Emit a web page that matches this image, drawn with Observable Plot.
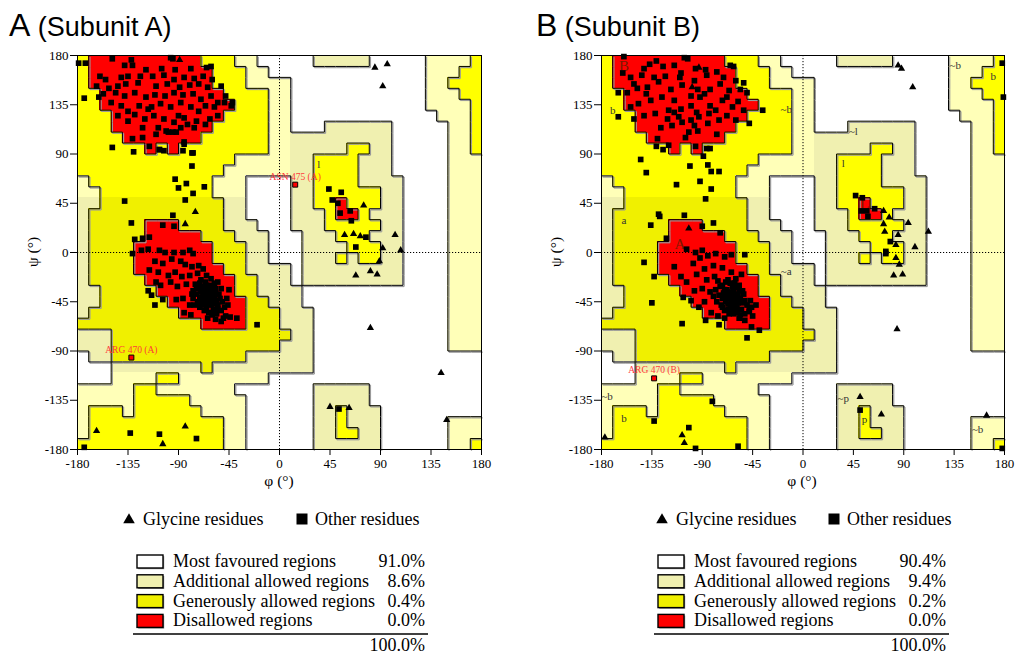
<!DOCTYPE html>
<html><head><meta charset="utf-8">
<script src="https://cdn.jsdelivr.net/npm/d3@7"></script>
<script src="https://cdn.jsdelivr.net/npm/@observablehq/plot@0.6"></script>
<style>
html,body{margin:0;padding:0;background:#fff;}
#root{position:relative;width:1018px;height:656px;overflow:hidden;}
#root svg{position:absolute;}
</style></head>
<body><div id="root"></div>
<script>
// ---------- data ----------
const TICKS = [-180,-135,-90,-45,0,45,90,135,180];
// region map: 36 rows (psi 180 -> -180), 36 cols (phi -180 -> 180), 10 degree cells
// R core, Y/y allowed, P/p generous, . disallowed
const REGION_ROWS = [
"YRRRRRRRRRRYYYPP.....ppppp.....PPPPY",
"YRRRRRRRRRRRYYYPP..............PPPYY",
"YRRRRRRRRRRRYYYPPPP............PPYYY",
"YYRRRRRRRRRRRYYYYPP............PPPYY",
"YYRRRRRRRRRRRRYYYPP............PPPPY",
"YYYRRRRRRRRRRYYYYPP.............PPPY",
"YYYRRRRRRRRRYYYYYPP...pppppp.....PPY",
"YYYYRRRRRRRYYYYYYPPppppppppp.....PPY",
"YYYYYYRYRYYYYYYYYPPpppppYYpp.....PPY",
"YYYYYYYYYYYYYYPPPPPppYYYYppp.....PPP",
"YYYYYYYYYYYYYPPPPPPppYYYYppp.....PPP",
"PYYYYYYYYYYYPPP....ppYYYYpppp....PPP",
"PPYYYYYYYYYYPPP....ppYYYYYYpp....PPP",
"ppyyyyyyyyyyypp....ppYYRYYYpp....PPP",
"pyyyyyyyyyyyypp....pppYRRYppp....PPP",
"pyyyyyRRRyyyyppp...pppYYYYYpp....PPP",
"pyyyyyRRRRRyyyppp...pppYYYppp....PPP",
"pyyyyRRRRRRRyyypp...ppppYYYpp....PPP",
"pyyyyRRRRRRRyyypp...pppYpYYpp....PPP",
"pyyyyRRRRRRRRyypppp.ppppppppp....PPP",
"pyyyyyRRRRRRRRyyppp.ppppppppp....PPP",
"ppyyyyyRRRRRRRyypppp.............PPP",
"ppyyyyyyRRRRRRRyyppp.............PPP",
"pyyyyyyyyRRRRRRyyyppp............PPP",
"yyyyyyyyyyyRRRRyyyppp............PPP",
"pppyyyyyyyyyyyyyyyypp............PPP",
"pppyyyyyyyyyyyyyyyppp............PPP",
".ppyyyyyyyyyyyypppppp...............",
"...ppppppppyppppppppp...............",
"...PPPPYYPPPPPPPP...................",
"PPPPPYYPPPPPPP.......ppppp..........",
"PPPPPYYYYYPPPPP......ppppp..........",
"PYYYPYYYYYYPPPP......ppYppp.........",
"PYYYYYYYYYYYYPP......ppYppp......PPP",
"PYYYYYYYYYYYYPP......ppYYpp......PPP",
"YYYYYYYYYYYYYPP......pppppp......PPY"
];
const REGION_FILL = {R:"#ff0000", Y:"#ffff00", y:"#f0f000", P:"#ffffb8", p:"#f0f0b0"};
const REGION_LEVEL = {R:3, Y:2, y:2, P:1, p:1, ".":0};

// ----- Subunit A -----
const glyA = [[85,169],[96,172],[92,152],[-89,176],[-75,37],[-84,26],[75,43],[58,16],[66,17],[72,15],[103,16],[92,4],[108,2],
 [89,-8],[68,-21],[81,-17],[87,-20],[81,-69],[144,-110],[149,-153],[45,-141],[62,-142],[-163,-163],[-104,-175],[-84,-159]];
const othA = [
 [53,-143],[-174,-178],[-133,-165],[-107,-166],[-74,-170],[-20,-66],[-111,-48],[-117,-35],[-114,-39],[-131,-1],
 [44,58],[55,55],[47,48],[52,45],[54,36],[63,38],[64,29],[77,14],[68,5],
 [-149,96],[-116,97],[-130,92],[-107,94],[-103,93],[-86,93],[-85,101],[-77,91],[-78,79],[-93,67],[-90,59],[-83,63],[-67,60],
 [-77,54],[-84,48],[-138,47],[-132,27],[-95,34],[-94,24],[-104,25],[-129,12],[-122,13],[-116,14],
 [-174,141],[-179,173],[-173,173],[-49,137],[-42,137],
 [-149,177],[-132,176],[-97,178],[-95,177],[-138,171],[-131,171],[-119,167],[-105,168],[-93,167],[-79,168],[-65,169],[-61,170],
 [-160,161],[-155,158],[-141,160],[-135,161],[-124,161],[-113,161],[-103,162],[-94,158],[-85,160],[-76,159],[-68,161],[-60,158],
 [-163,152],[-144,152],[-137,154],[-126,155],[-110,152],[-100,154],[-89,151],[-80,153],[-72,154],[-64,151],[-52,152],
 [-161,142],[-157,145],[-146,146],[-138,143],[-129,146],[-119,142],[-111,144],[-102,143],[-94,146],[-86,144],[-77,145],
 [-70,140],[-61,143],[-55,137],[-48,143],[-150,137],[-141,134],[-135,129],[-125,134],[-114,133],[-106,136],[-97,133],[-88,137],
 [-79,133],[-66,134],[-58,133],[-144,125],[-129,126],[-120,122],[-112,125],[-103,122],[-94,119],[-85,123],[-74,120],[-62,122],
 [-55,125],[-43,134],[-135,120],[-122,114],[-108,114],[-101,111],[-95,110],[-88,114],[-82,117],[-76,114],[-66,117],
 [-131,104],[-122,105],[-110,108],[-99,110],[-92,110],[-85,99],[-107,94],[-78,91],[-117,131],[-90,125],[-72,129],[-152,150],
 [-107,2],[-123,2],[-117,3],[-102,0],[-94,0],[-86,0],[-80,2],[-77,-1],[-111,-8],[-104,-10],[-96,-6],[-88,-8],[-84,-11],
 [-78,-13],[-72,-12],[-68,-15],[-116,-16],[-108,-18],[-99,-21],[-93,-18],[-87,-22],[-80,-21],[-73,-19],[-65,-21],[-61,-24],
 [-58,-28],[-110,-27],[-106,-30],[-97,-27],[-91,-31],[-83,-29],[-77,-35],[-71,-28],[-65,-30],[-55,-27],[-52,-33],[-45,-34],
 [-92,-43],[-86,-42],[-80,-48],[-85,-55],[-79,-57],[-104,-43],[-60,-55],[-57,-61],[-50,-60],[-48,-58],[-44,-59],[-38,-60],
 [-52,-63],[-72,-32],[-70,-36],[-68,-40],[-66,-34],[-64,-38],[-62,-42],[-60,-36],[-58,-40],[-56,-44],[-63,-46],[-67,-44],
 [-71,-41],[-74,-38],[-69,-48],[-65,-50],[-61,-48],[-59,-52],[-55,-48],[-53,-42],[-57,-33],[-62,-30],[-66,-27],[-70,-25],
 [-75,-29],[-73,-45],[-77,-42],[-54,-38],[-51,-45],[-49,-50],[-52,-53],[-56,-56],[-63,-55],[-67,-53],[-71,-50],[-60,-45],
 [-64,-43],[-68,-37],[-62,-39],[-58,-47],[-66,-41],[-70,-44],[-72,-47],[-61,-33],[-57,-37],[-65,-46],[-59,-43],[-63,-35],
 [-67,-31],[-55,-51],[-60,-57],[-64,-60],[-47,-42],[-46,-48],[-74,-33],[-76,-48],[-78,-38],[-69,-33],[-63,-40],[-66,-47]
];
const specA = [{phi:14,psi:62,name:"ASN 475 (A)"},{phi:-132,psi:-96,name:"ARG 470 (A)"}];
const labA = [{t:"l",phi:35,psi:80,big:false}];

// ----- Subunit B -----
const glyB = [[-93,169],[-99,151],[85,171],[88,168],[98,151],[72,38],[77,32],[72,26],[73,19],[85,16],[94,27],[112,19],[83,7],
 [100,5],[-102,22],[83,-5],[86,-11],[81,-21],[89,-20],[84,-70],[51,-132],[70,-148],[164,-149],[-177,-169],[-108,-167],[-106,-174]];
const othB = [
 [51,-144],[-81,-136],[-133,-154],[-102,-160],[-96,-179],[-58,-177],[178,-179],[-50,-78],[-39,-71],[-46,-68],[-108,-65],
 [-87,-62],[-75,-66],[-135,-46],[-133,-22],[-142,-9],[-52,-2],[74,-1],
 [178,173],[179,142],[-36,130],[-160,179],[-165,146],[-165,124],[-145,85],[-140,73],[-131,97],[-125,94],[-120,98],[-113,62],
 [-101,79],[-92,65],[-89,88],[-85,80],[-82,74],[-75,74],[-82,58],[-87,49],[-86,95],[-83,95],[-96,97],[-129,35],[-128,33],
 [-136,25],[-106,34],[-90,24],[-80,27],[-74,18],[-122,13],
 [47,52],[53,50],[52,38],[57,38],[58,33],[64,40],[78,10],[74,1],
 [-142,168],[-137,172],[-131,175],[-106,178],[-103,177],[-115,171],[-96,168],[-87,167],[-77,165],[-65,171],[-62,170],
 [-161,164],[-154,160],[-144,162],[-133,160],[-123,161],[-109,164],[-97,157],[-86,162],[-71,160],[-60,157],[-53,155],
 [-157,146],[-151,154],[-139,151],[-129,156],[-118,149],[-108,153],[-94,149],[-83,149],[-74,154],[-66,148],[-56,149],[-50,146],
 [-154,133],[-147,136],[-136,139],[-126,142],[-115,139],[-109,131],[-100,134],[-92,142],[-83,134],[-72,139],[-63,133],[-53,130],
 [-151,122],[-142,125],[-132,127],[-121,122],[-111,124],[-100,121],[-93,124],[-84,127],[-75,121],[-68,125],[-60,121],[-48,118],
 [-127,114],[-117,116],[-108,119],[-97,116],[-102,110],[-94,111],[-77,108],[-120,130],[-88,145],[-140,145],[-110,160],
 [-100,143],[-78,130],[-68,142],[-58,138],[-125,170],[-148,150],[-95,128],[-115,128],[-85,118],[-105,105],[-130,104],
 [-96,0],[-104,3],[-90,2],[-115,-13],[-109,-22],[-104,-27],[-107,-41],[-100,-44],[-93,-50],[-98,-10],[-92,-5],[-85,-3],
 [-78,-1],[-70,-4],[-64,-2],[-88,-15],[-80,-12],[-72,-14],[-95,-20],[-86,-25],[-79,-22],[-90,-33],[-83,-36],[-97,-35],
 [-76,-58],[-70,-60],[-82,-55],[-88,-45],[-57,-60],[-52,-62],[-45,-58],[-42,-48],[-48,-52],[-64,-18],[-60,-24],[-55,-20],
 [-72,-30],[-70,-34],[-68,-38],[-66,-42],[-64,-36],[-62,-40],[-60,-44],[-58,-38],[-56,-42],[-54,-46],[-61,-48],[-65,-48],
 [-69,-45],[-72,-42],[-75,-39],[-67,-52],[-63,-52],[-59,-50],[-55,-52],[-52,-44],[-57,-34],[-61,-32],[-65,-28],[-69,-27],
 [-74,-31],[-73,-48],[-77,-45],[-53,-38],[-50,-48],[-48,-54],[-52,-56],[-56,-57],[-62,-56],[-66,-56],[-70,-53],[-60,-40],
 [-64,-44],[-68,-34],[-62,-36],[-58,-46],[-66,-38],[-70,-40],[-72,-50],[-61,-28],[-57,-30],[-64,-50],[-59,-55],[-63,-31],
 [-67,-25],[-54,-35],[-78,-34],[-80,-40],[-76,-26],[-47,-44],[-46,-50],[-71,-37],[-65,-40],[-67,-47]
];
const specB = [{phi:-133,psi:-115,name:"ARG 470 (B)"}];
const labB = [
 {t:"B",phi:-160,psi:170,big:true},{t:"b",phi:-170,psi:130,big:false},{t:"~b",phi:-15,psi:131,big:false},
 {t:"a",phi:-160,psi:29,big:false},{t:"A",phi:-110,psi:8,big:true},{t:"~l",phi:45,psi:111,big:false},
 {t:"l",phi:36,psi:81,big:false},{t:"L",phi:55,psi:44,big:true},{t:"~b",phi:136,psi:171,big:false},
 {t:"b",phi:170,psi:161,big:false},{t:"~a",phi:-15,psi:-17,big:false},{t:"~b",phi:-175,psi:-132,big:false},
 {t:"b",phi:-160,psi:-152,big:false},{t:"~p",phi:36,psi:-133,big:false},{t:"p",phi:55,psi:-153,big:false},
 {t:"~b",phi:156,psi:-162,big:false}
];

// legend data
const LEGEND_SYMBOLS = ["Glycine residues","Other residues"];
const LEGEND_ITEMS = ["Most favoured regions","Additional allowed regions","Generously allowed regions","Disallowed regions"];
const LEGEND_SWATCH = ["#ffffff","#f0f0b0","#f0f000","#ff0000"];
const PCT_A = ["91.0%","8.6%","0.4%","0.0%"];
const PCT_B = ["90.4%","9.4%","0.2%","0.0%"];
const TOTAL = "100.0%";

// ---------- build region cells & edges ----------
const rows = REGION_ROWS.map(s => (s + ".".repeat(36)).slice(0,36));
const cells = [];
rows.forEach((row, r) => [...row].forEach((ch, c) => {
  if (ch !== ".") cells.push({x1:-180+10*c, x2:-170+10*c, y1:170-10*r, y2:180-10*r, fill:REGION_FILL[ch]});
}));
const edges = [];
for (let r = 0; r < 36; r++) for (let c = 0; c < 36; c++) {
  const a = REGION_LEVEL[rows[r][c]];
  if (c < 35 && a !== REGION_LEVEL[rows[r][c+1]]) {
    const x = -170+10*c; edges.push({x1:x, x2:x, y1:170-10*r, y2:180-10*r});
  }
  if (r < 35 && a !== REGION_LEVEL[rows[r+1][c]]) {
    const y = 170-10*r; edges.push({x1:-180+10*c, x2:-170+10*c, y1:y, y2:y});
  }
}

const SERIF = '"Liberation Serif","Times New Roman",serif';
const SANS = '"Liberation Sans",Arial,sans-serif';

function panel(gly, oth, spec, labs, o) {
  const pts = oth.map(d => ({phi:d[0], psi:d[1]}));
  const gp = gly.map(d => ({phi:d[0], psi:d[1]}));
  const svg = Plot.plot({
    width:o.width, height:495, marginTop:55, marginBottom:46, marginLeft:o.ml, marginRight:o.mr,
    x:{domain:[-180,180], ticks:TICKS, tickFormat:d=>String(d), tickSize:6, tickPadding:3, label:null},
    y:{domain:[-180,180], ticks:TICKS, tickFormat:d=>String(d), tickSize:7, tickPadding:2, label:null},
    color:{type:"identity"},
    style:{fontFamily:SERIF, fontSize:"13px", color:"#000", background:"none"},
    marks:[
      Plot.rect(cells, {x1:"x1", x2:"x2", y1:"y1", y2:"y2", fill:"fill", shapeRendering:"crispEdges"}),
      Plot.link(edges, {x1:"x1", x2:"x2", y1:"y1", y2:"y2", stroke:"#9a9a9a", strokeWidth:1.2, dx:1.2, dy:1.2}),
      Plot.link(edges, {x1:"x1", x2:"x2", y1:"y1", y2:"y2", stroke:"#000", strokeWidth:1}),
      Plot.ruleX([0], {stroke:"#000", strokeWidth:1, strokeDasharray:"1.2,1.8"}),
      Plot.ruleY([0], {stroke:"#000", strokeWidth:1, strokeDasharray:"1.2,1.8"}),
      Plot.frame({stroke:"#000", strokeWidth:1}),
      Plot.text(labs.filter(d=>!d.big), {x:"phi", y:"psi", text:"t", fill:"#333", fontSize:11, fontFamily:SERIF}),
      Plot.text(labs.filter(d=>d.big), {x:"phi", y:"psi", text:"t", fill:"#7a1a00", fontSize:15, fontFamily:SERIF}),
      Plot.dot(pts, {x:"phi", y:"psi", symbol:"square", r:3.2, fill:"#000", stroke:"none"}),
      Plot.dot(gp, {x:"phi", y:"psi", symbol:"triangle", r:2.7, fill:"#000", stroke:"none"}),
      Plot.dot(spec, {x:"phi", y:"psi", symbol:"square", r:2.8, fill:"#ff0000", stroke:"#000", strokeWidth:1}),
      Plot.text(spec, {x:"phi", y:"psi", text:"name", fill:"#ff3a3a", fontSize:9.5, fontFamily:SERIF, dy:-8})
    ]
  });
  svg.style.left = o.left + "px";
  svg.style.top = "0px";
  return svg;
}

const root = document.getElementById("root");
root.appendChild(panel(glyA, othA, specA, labA, {width:509, ml:77, mr:28, left:0}));
root.appendChild(panel(glyB, othB, specB, labB, {width:498, ml:81, mr:14, left:520}));

// ---------- overlay: titles, axis labels, legends ----------
const ov = d3.select(root).append("svg").attr("width",1018).attr("height",656)
  .style("left","0px").style("top","0px").style("pointer-events","none");

function title(x, letter, sub) {
  const t = ov.append("text").attr("x", x).attr("y", 36).attr("font-family", SANS).attr("fill", "#000");
  t.append("tspan").attr("font-size", 32).text(letter);
  t.append("tspan").attr("font-size", 27).text(" " + sub);
}
title(9, "A", "(Subunit A)");
title(536, "B", "(Subunit B)");

function axisLabels(cx, ylx) {
  ov.append("text").attr("x", cx).attr("y", 486).attr("text-anchor","middle")
    .attr("font-family", SERIF).attr("font-size", 15.5).text("φ (°)");
  ov.append("text").attr("transform", `translate(${ylx},252) rotate(-90)`).attr("text-anchor","middle")
    .attr("font-family", SERIF).attr("font-size", 15.5).text("ψ (°)");
}
axisLabels(279, 38);
axisLabels(802, 561);

function legend(o, pct) {
  const g = ov.append("g").attr("font-family", SERIF).attr("font-size", 18).attr("fill", "#000");
  g.append("path").attr("d", d3.symbol(d3.symbolTriangle, 58)()).attr("transform", `translate(${o.tri},520)`);
  g.append("text").attr("x", o.tri + 14).attr("y", 525).text(LEGEND_SYMBOLS[0]);
  g.append("rect").attr("x", o.sq - 5.5).attr("y", 513.5).attr("width", 11).attr("height", 11);
  g.append("text").attr("x", o.sq + 13).attr("y", 525).text(LEGEND_SYMBOLS[1]);
  LEGEND_ITEMS.forEach((lab, i) => {
    const y = 555 + i * 19.8;
    g.append("rect").attr("x", o.box + 1.2).attr("y", y + 1.2).attr("width", 26).attr("height", 13).attr("fill", "#8a8a8a");
    g.append("rect").attr("x", o.box).attr("y", y).attr("width", 26).attr("height", 13)
      .attr("fill", LEGEND_SWATCH[i]).attr("stroke", "#000").attr("stroke-width", 1.4);
    g.append("text").attr("x", o.box + 36).attr("y", y + 12).text(lab);
    g.append("text").attr("x", o.right).attr("y", y + 12).attr("text-anchor", "end").text(pct[i]);
  });
  g.append("line").attr("x1", o.box - 4).attr("x2", o.right + 3).attr("y1", 634).attr("y2", 634)
    .attr("stroke", "#000").attr("stroke-width", 1.3);
  g.append("text").attr("x", o.right).attr("y", 651).attr("text-anchor", "end").text(TOTAL);
}
legend({tri:129, sq:302, box:137, right:425}, PCT_A);
legend({tri:662, sq:834, box:658, right:946}, PCT_B);
</script>
</body></html>
